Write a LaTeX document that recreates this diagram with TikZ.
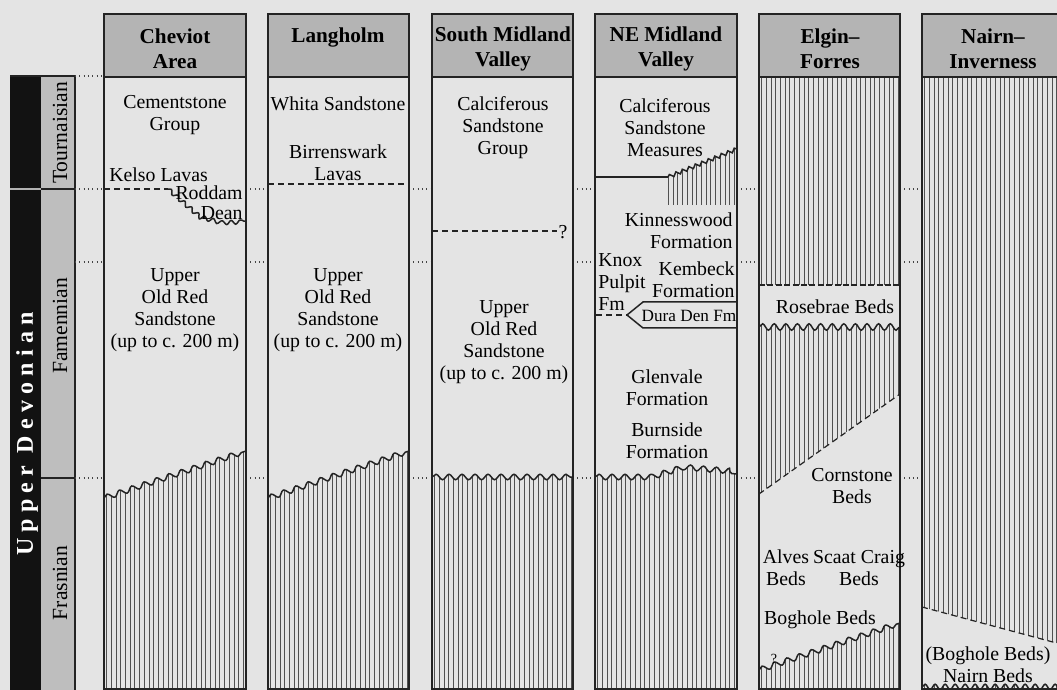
\documentclass[tikz,border=0pt]{standalone}
\usepackage{fontspec}
\setmainfont{Liberation Serif}
\usetikzlibrary{decorations.pathmorphing}
\definecolor{bgc}{RGB}{228,228,228}
\definecolor{hdrc}{RGB}{180,180,180}
\definecolor{stgc}{RGB}{190,190,190}
\definecolor{barc}{RGB}{18,18,18}
\definecolor{inkc}{RGB}{35,35,35}
\definecolor{hatc}{RGB}{80,80,80}
\newcommand\hatchcol[3]{\foreach \i in {0,...,30}{\draw[hl] ({#1+2.5+\i*4.72},#2) -- ({#1+2.5+\i*4.72},#3);}}
\begin{document}
\begin{tikzpicture}[x=0.5pt,y=-0.5pt,
  body/.style={font=\fontsize{9.9}{11}\selectfont, align=center, inner sep=0pt},
  hdr/.style={font=\fontsize{10.6}{12.5}\selectfont\bfseries, align=center, inner sep=0pt},
  stg/.style={font=\fontsize{10.8}{12}\selectfont, rotate=90, inner sep=0pt},
  col/.style={draw=inkc, line width=0.75pt},
  hl/.style={draw=hatc, line width=0.35pt},
  wl/.style={draw=inkc, line width=0.75pt},
  wave/.style={decoration={snake,segment length=6.5pt,amplitude=1.35pt}},
  wavesm/.style={decoration={snake,segment length=3.5pt,amplitude=0.9pt}},
  waveb/.style={decoration={snake,segment length=5.8pt,amplitude=1.6pt}},
  dotl/.style={draw=inkc!85, line width=0.55pt, dash pattern=on 0.55pt off 1.6pt},
  dashl/.style={draw=inkc, line width=0.6pt, dash pattern=on 3pt off 2pt}]
\useasboundingbox (0,0) rectangle (1057,690);
\clip (0,0) rectangle (1057,690);
\fill[bgc] (0,0) rectangle (1057,690);

% ---------- stage columns ----------
\fill[barc] (10,76) rectangle (41,690);
\fill[stgc] (41,76) rectangle (75,690);
\draw[col] (10,76) -- (75,76);
\draw[col] (75,76) -- (75,690);
\draw[draw=white!70!black, line width=0.6pt] (10,189) -- (41,189);
\draw[col] (41,189) -- (75,189);
\draw[col] (41,478) -- (75,478);
\node[rotate=90, text=white, inner sep=0pt,
  font=\fontsize{12}{12}\selectfont\bfseries\addfontfeature{LetterSpace=26}] (ud) at (27,434) {Upper Devonian};
\node[stg] (tour) at (60,133) {Tournaisian};
\node[stg] (fame) at (60,326) {Famennian};
\node[stg] (fras) at (60,583) {Frasnian};

% ---------- correlation dotted lines ----------
\draw[dotl] (75,76) -- (104,76);
\foreach \yy in {189,262,478}{
  \draw[dotl] (75,\yy) -- (104,\yy);
  \draw[dotl] (246,\yy) -- (268,\yy);
  \draw[dotl] (409,\yy) -- (432,\yy);
  \draw[dotl] (573,\yy) -- (595,\yy);
  \draw[dotl] (737,\yy) -- (759,\yy);
  \draw[dotl] (900,\yy) -- (922,\yy);
}

% ---------- Cheviot ----------
\begin{scope}
\clip decorate[wave]{(104,498) -- (246,451)} -- (246,700) -- (104,700) -- cycle;
\hatchcol{104}{440}{700}
\end{scope}
\draw[wl, decorate, wave] (104,498) -- (246,451);
\draw[dashl] (104,189) -- (168,189);
\draw[wl, decorate, decoration={snake,segment length=4.5pt,amplitude=1pt}] (168,189) -- (199,216) -- (222,222) -- (246,221);

% ---------- Langholm ----------
\begin{scope}
\clip decorate[wave]{(268,498) -- (409,451)} -- (409,700) -- (268,700) -- cycle;
\hatchcol{268}{440}{700}
\end{scope}
\draw[wl, decorate, wave] (268,498) -- (409,451);
\draw[dashl] (268,184) -- (409,184);

% ---------- South Midland Valley ----------
\begin{scope}
\clip decorate[wave]{(432,477) -- (573,477)} -- (573,700) -- (432,700) -- cycle;
\hatchcol{432}{470}{700}
\end{scope}
\draw[wl, decorate, wave] (432,477) -- (573,477);
\draw[dashl] (432,231) -- (557,231);

% ---------- NE Midland Valley ----------
\begin{scope}
\clip decorate[wavesm]{(668,177) -- (737,149)} -- (737,205) -- (668,205) -- cycle;
\hatchcol{595}{140}{205}
\end{scope}
\draw[wl, decorate, wavesm] (668,177) -- (737,149);
\draw[col] (595,177) -- (668,177);
\begin{scope}
\clip decorate[wave]{(595,477) -- (650,477) -- (676,469) -- (737,474)} -- (737,700) -- (595,700) -- cycle;
\hatchcol{595}{460}{700}
\end{scope}
\draw[wl, decorate, wave] (595,477) -- (650,477) -- (676,469) -- (737,474);
\draw[col] (737,302) -- (643,302) -- (627,315) -- (643,328) -- (737,328);
\draw[dashl] (596,315) -- (627,315);

% ---------- Elgin-Forres ----------
\begin{scope}
\clip (759,77) rectangle (900,285);
\hatchcol{759}{77}{285}
\end{scope}
\draw[dashl, dash pattern=on 3pt off 1.2pt] (759,285) -- (900,285);
\begin{scope}
\clip decorate[waveb]{(759,327) -- (900,327)} -- (900,394) -- (759,494) -- cycle;
\hatchcol{759}{320}{494}
\end{scope}
\draw[wl, decorate, waveb] (759,327) -- (900,327);
\draw[dashl] (759,494) -- (900,394);
\begin{scope}
\clip decorate[wave]{(759,670) -- (900,623)} -- (900,700) -- (759,700) -- cycle;
\hatchcol{759}{615}{700}
\end{scope}
\draw[wl, decorate, wave] (759,670) -- (900,623);

% ---------- Nairn-Inverness ----------
\begin{scope}
\clip (922,77) -- (1064,77) -- (1064,645) -- (922,607) -- cycle;
\hatchcol{922}{77}{645}
\end{scope}
\draw[dashl] (922,607) -- (1064,645);
\begin{scope}
\clip decorate[decoration={snake,segment length=5pt,amplitude=1.4pt}]{(922,687) -- (1064,687)} -- (1064,700) -- (922,700) -- cycle;
\hatchcol{922}{680}{700}
\end{scope}
\draw[wl, decorate, decoration={snake,segment length=5pt,amplitude=1.4pt}] (922,687) -- (1064,687);

% ---------- column frames and headers ----------
\foreach \L/\R in {104/246,268/409,432/573,595/737,759/900,922/1063}{
  \fill[hdrc] (\L,14) rectangle (\R,77);
  \draw[col] (\L,14) rectangle (\R,77);
  \draw[col] (\L,77) -- (\L,689) -- (\R,689) -- (\R,77);
}
\node[hdr] (hche) at (175,49) {Cheviot\\Area};
\node[hdr] (hlan) at (338,37) {Langholm};
\node[hdr] (hsmv) at (503,49) {South Midland\\Valley};
\node[hdr] (hnem) at (666,49) {NE Midland\\Valley};
\node[hdr] (helg) at (830,49) {Elgin–\\Forres};
\node[hdr] (hnai) at (993,49) {Nairn–\\Inverness};

% ---------- texts: Cheviot ----------
\node[body] (cem) at (175,115) {Cementstone\\Group};
\node[body, anchor=west] (kel) at (109,175) {Kelso Lavas};
\node[body, anchor=east] (rod) at (243,193) {Roddam};
\node[body, anchor=east] (dea) at (243,213) {Dean};
\node[body] (ors1) at (175,310) {Upper\\Old Red\\Sandstone\\(up to c. 200 m)};

% ---------- texts: Langholm ----------
\node[body] (whi) at (338,104) {Whita Sandstone};
\node[body] (bir) at (338,163) {Birrenswark\\Lavas};
\node[body] (ors2) at (338,310) {Upper\\Old Red\\Sandstone\\(up to c. 200 m)};

% ---------- texts: South Midland ----------
\node[body] (cal1) at (503,128) {Calciferous\\Sandstone\\Group};
\node[body] (q1) at (563,232) {?};
\node[body] (ors3) at (504,342) {Upper\\Old Red\\Sandstone\\(up to c. 200 m)};

% ---------- texts: NE Midland ----------
\node[body] (cal2) at (665,128) {Calciferous\\Sandstone\\Measures};
\node[body, anchor=east, align=right] (kin) at (733,231) {Kinnesswood\\Formation};
\node[body, anchor=west, align=left] (kno) at (598,282) {Knox\\Pulpit\\Fm};
\node[body, anchor=east, align=right] (kem) at (735,280) {Kembeck\\Formation};
\node[body, font=\fontsize{8.6}{10}\selectfont] (dur) at (689,316) {Dura Den Fm};
\node[body] (gle) at (667,388) {Glenvale\\Formation};
\node[body] (bur) at (667,441) {Burnside\\Formation};

% ---------- texts: Elgin ----------
\node[body] (ros) at (835,307) {Rosebrae Beds};
\node[body] (cor) at (852,486) {Cornstone\\Beds};
\node[body] (alv) at (786,568) {Alves\\Beds};
\node[body] (sca) at (859,568) {Scaat Craig\\Beds};
\node[body] (bog) at (820,620) {Boghole Beds};
\node[body, font=\fontsize{7}{8}\selectfont] (q2) at (774,659) {?};

% ---------- texts: Nairn ----------
\node[body] (nai) at (988,665) {(Boghole Beds)\\Nairn Beds};
\end{tikzpicture}
\end{document}
